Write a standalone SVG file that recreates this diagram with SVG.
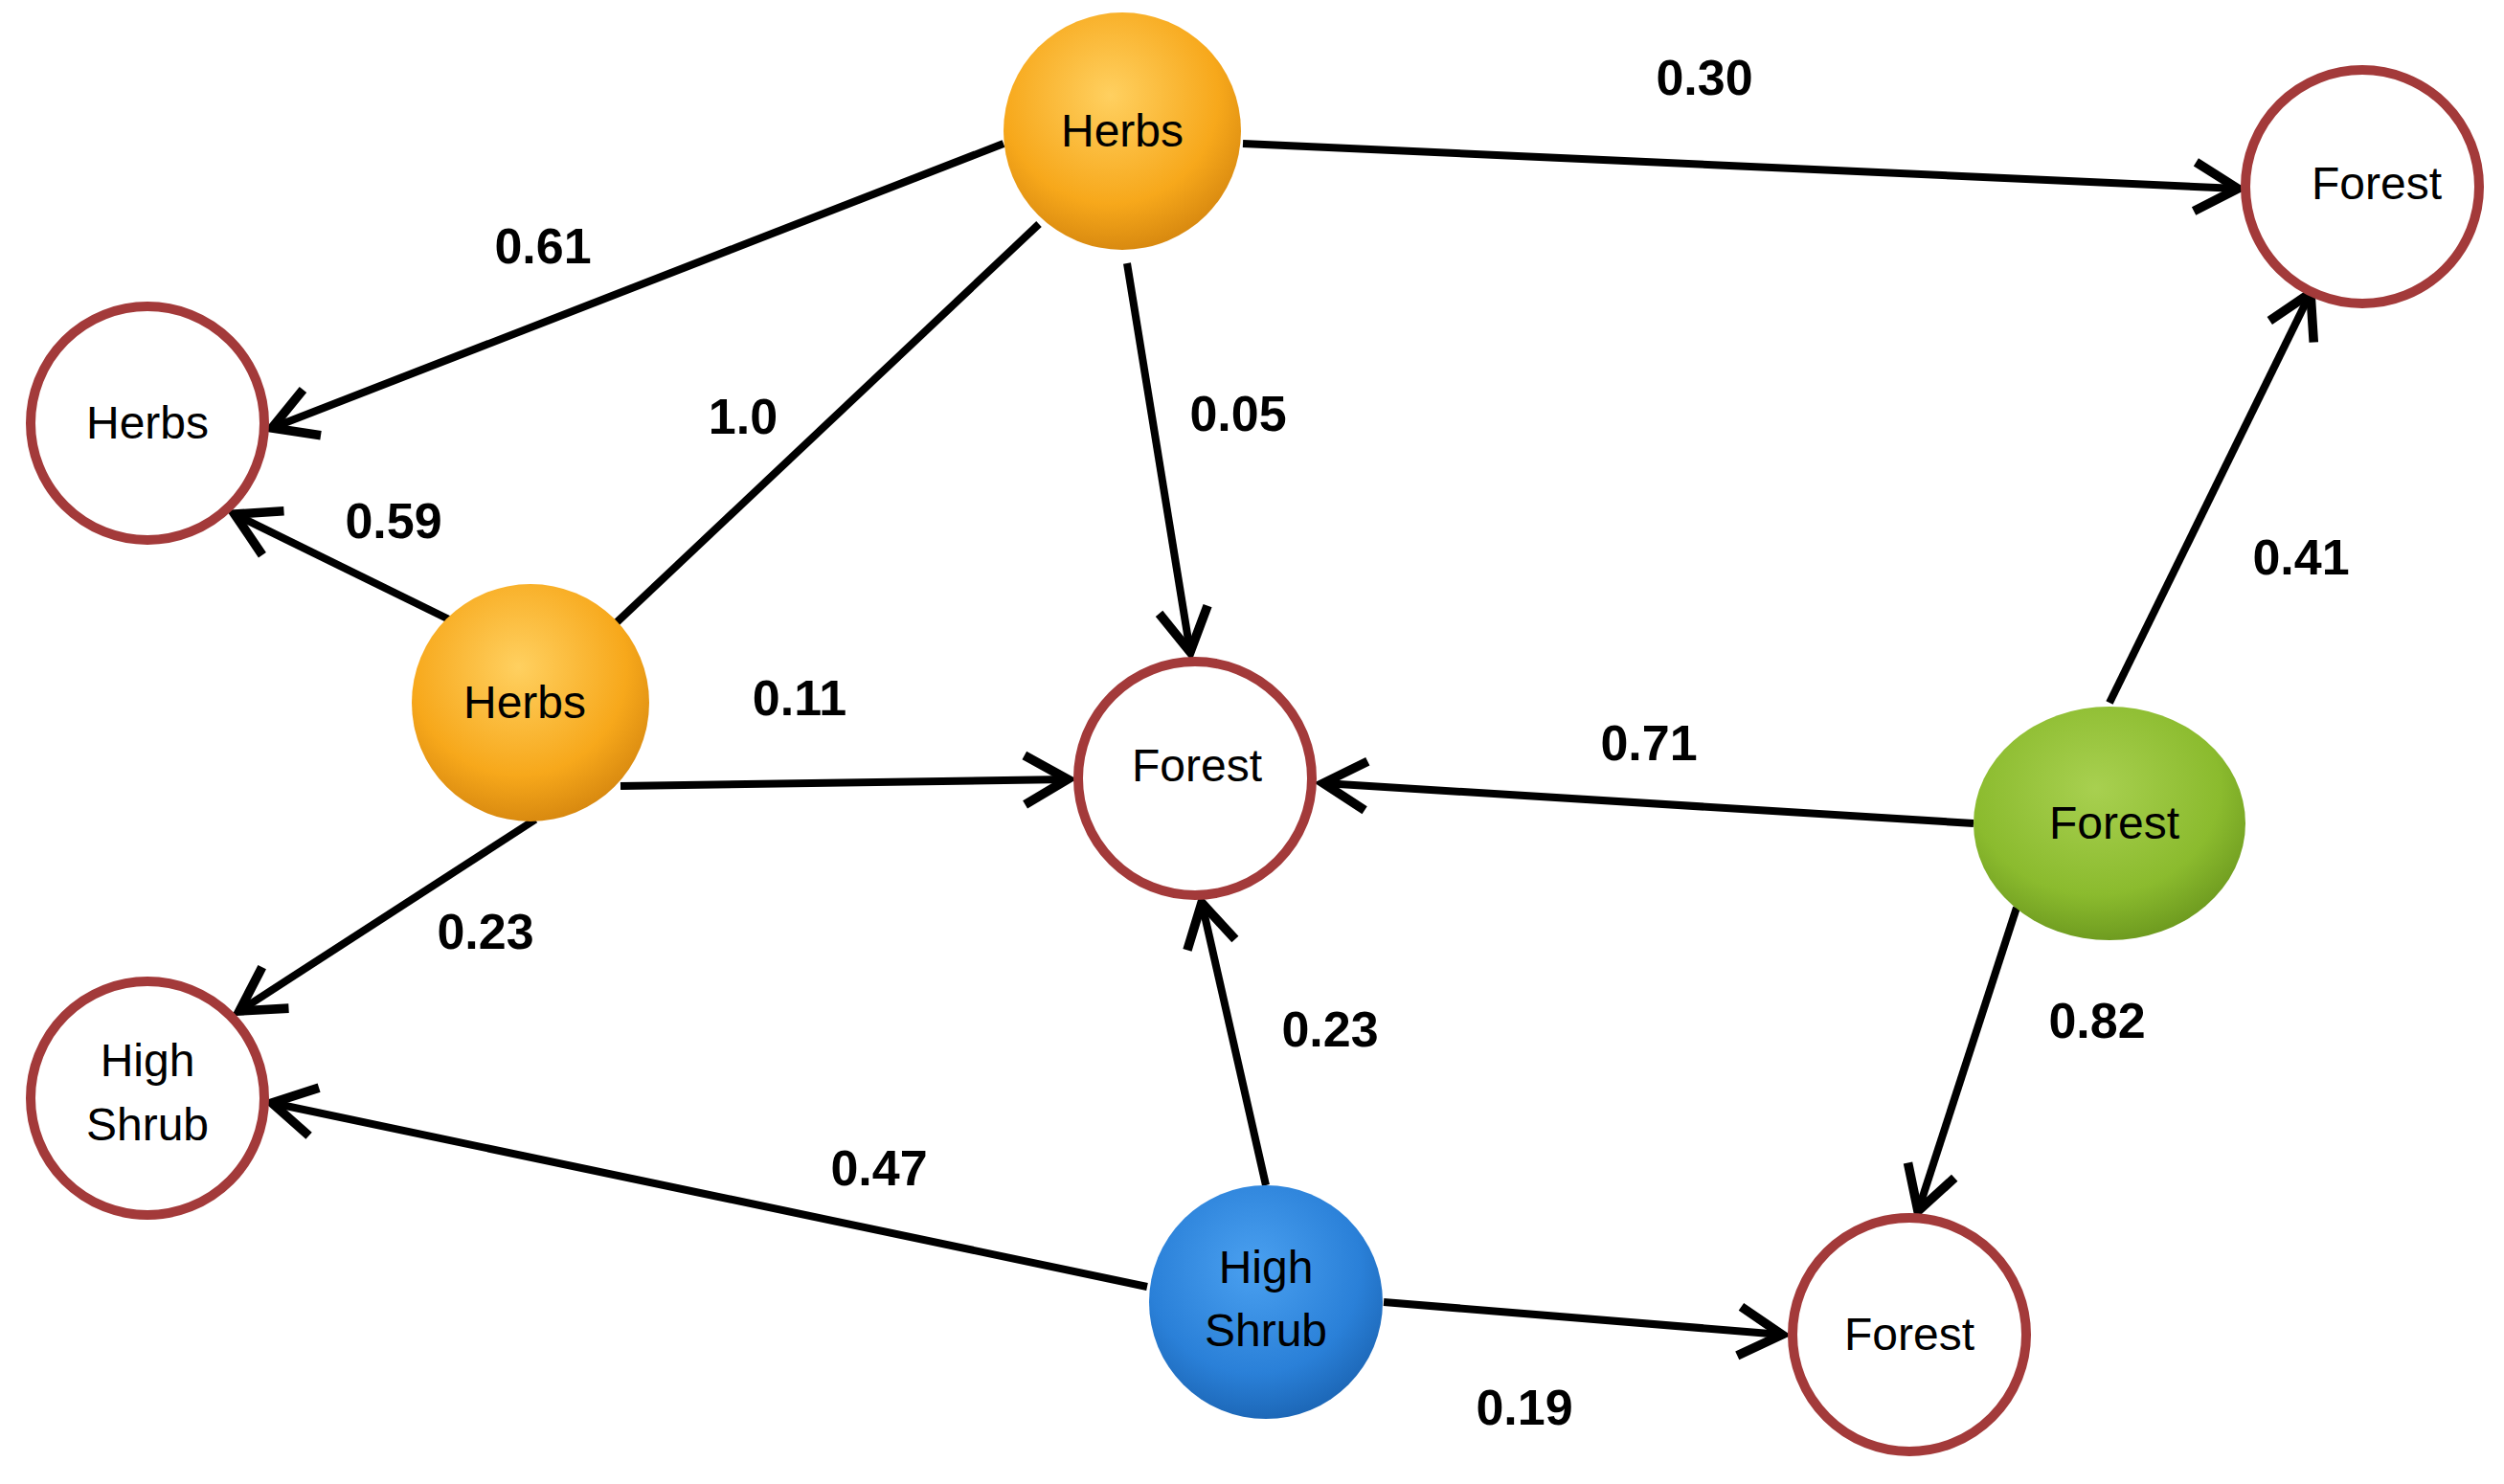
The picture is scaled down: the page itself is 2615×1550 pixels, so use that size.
<svg xmlns="http://www.w3.org/2000/svg" width="2615" height="1550" viewBox="0 0 2615 1550">
<defs>
<radialGradient id="gO" cx="45%" cy="35%" r="65%"><stop offset="0" stop-color="#ffd060"/><stop offset="0.7" stop-color="#f7a81b"/><stop offset="1" stop-color="#d98a10"/></radialGradient>
<radialGradient id="gG" cx="45%" cy="35%" r="65%"><stop offset="0" stop-color="#a8d050"/><stop offset="0.7" stop-color="#8bbb2e"/><stop offset="1" stop-color="#6f9c20"/></radialGradient>
<radialGradient id="gB" cx="45%" cy="35%" r="65%"><stop offset="0" stop-color="#4aa0f0"/><stop offset="0.7" stop-color="#2a80d8"/><stop offset="1" stop-color="#1d68b8"/></radialGradient>
<marker id="ah" viewBox="0 0 20 20" refX="17" refY="10" markerWidth="8" markerHeight="8" markerUnits="strokeWidth" orient="auto"><polyline points="3,2 17,10 3,18" fill="none" stroke="#000" stroke-width="3" stroke-linejoin="miter"/></marker>
</defs>
<style>
.e{stroke:#000;stroke-width:8;fill:none;marker-end:url(#ah)}
.o{fill:#fff;stroke:#a33a3a;stroke-width:10}
.t{font-family:"Liberation Sans",Arial,sans-serif;font-size:48px;text-anchor:middle;fill:#000}
.l{font-family:"Liberation Sans",Arial,sans-serif;font-size:52px;font-weight:bold;text-anchor:middle;fill:#000}
</style>
<rect width="2615" height="1550" fill="#fff"/>
<g id="connectors">
<line class="e" x1="1048" y1="150" x2="284" y2="447"/>
<line x1="1085" y1="234" x2="643" y2="651" stroke="#000" stroke-width="8"/>
<line class="e" x1="1177" y1="275" x2="1243" y2="681"/>
<line class="e" x1="1298" y1="150" x2="2337" y2="197"/>
<line class="e" x1="471" y1="648" x2="245" y2="537"/>
<line class="e" x1="648" y1="821" x2="1115" y2="814"/>
<line class="e" x1="559" y1="856" x2="250" y2="1056"/>
<line class="e" x1="2061" y1="860" x2="1382" y2="818"/>
<line class="e" x1="2203" y1="734" x2="2413" y2="306"/>
<line class="e" x1="2106" y1="948" x2="2003" y2="1265"/>
<line class="e" x1="1322" y1="1238" x2="1255" y2="943"/>
<line class="e" x1="1198" y1="1344" x2="284" y2="1152"/>
<line class="e" x1="1445" y1="1360" x2="1861" y2="1394"/>
<text class="l" x="567" y="275">0.61</text>
<text class="l" x="776" y="453">1.0</text>
<text class="l" x="1293" y="450">0.05</text>
<text class="l" x="1780" y="99">0.30</text>
<text class="l" x="411" y="562">0.59</text>
<text class="l" x="835" y="747">0.11</text>
<text class="l" x="507" y="991">0.23</text>
<text class="l" x="1722" y="794">0.71</text>
<text class="l" x="2403" y="600">0.41</text>
<text class="l" x="2190" y="1084">0.82</text>
<text class="l" x="1389" y="1093">0.23</text>
<text class="l" x="918" y="1238">0.47</text>
<text class="l" x="1592" y="1488">0.19</text>
</g>
<g id="herbsTop"><circle cx="1172" cy="137" r="124" fill="url(#gO)"/><text class="t" x="1172" y="153">Herbs</text></g>
<g id="herbsLeft"><circle class="o" cx="154" cy="442" r="122"/><text class="t" x="154" y="458">Herbs</text></g>
<g id="herbsMid"><circle cx="554" cy="734" r="124" fill="url(#gO)"/><text class="t" x="548" y="750">Herbs</text></g>
<g id="shrubLeft"><circle class="o" cx="154" cy="1147" r="122"/><text class="t" x="154" y="1124">High</text><text class="t" x="154" y="1191">Shrub</text></g>
<g id="forestCenter"><circle class="o" cx="1248" cy="813" r="122"/><text class="t" x="1250" y="816">Forest</text></g>
<g id="forestTR"><circle class="o" cx="2467" cy="195" r="122"/><text class="t" x="2482" y="208">Forest</text></g>
<g id="forestGreen"><ellipse cx="2203" cy="860" rx="142" ry="122" fill="url(#gG)"/><text class="t" x="2208" y="876">Forest</text></g>
<g id="shrubBlue"><circle cx="1322" cy="1360" r="122" fill="url(#gB)"/><text class="t" x="1322" y="1340">High</text><text class="t" x="1322" y="1406">Shrub</text></g>
<g id="forestBottom"><circle class="o" cx="1994" cy="1394" r="122"/><text class="t" x="1994" y="1410">Forest</text></g>
</svg>
